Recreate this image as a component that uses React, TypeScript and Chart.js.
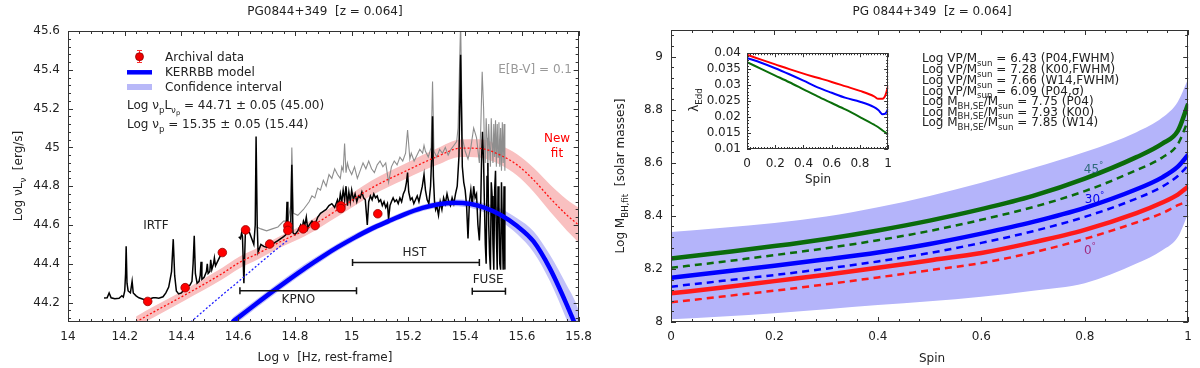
import React, { useEffect, useRef } from "react";
import { Chart, registerables } from "chart.js";
Chart.register(...registerables);

const FONT = '"DejaVu Sans", sans-serif';
const TXT = "#222";

// ---------------- Left panel data ----------------
const leftXTicks = [14, 14.2, 14.4, 14.6, 14.8, 15, 15.2, 15.4, 15.6, 15.8];
const leftYTicks = [44.2, 44.4, 44.6, 44.8, 45, 45.2, 45.4, 45.6];

const archivalX = [14.281, 14.413, 14.544, 14.626, 14.711, 14.775, 14.775, 14.829, 14.871, 14.962, 14.962, 15.092];
const archivalY = [44.206, 44.277, 44.458, 44.575, 44.502, 44.596, 44.572, 44.58, 44.597, 44.699, 44.685, 44.658];

const kerrX = [14.579, 14.602, 14.66, 14.719, 14.78, 14.836, 14.9, 14.952, 15.01, 15.069, 15.13, 15.186, 15.25, 15.302, 15.36, 15.42, 15.47, 15.524, 15.583, 15.641, 15.699, 15.758, 15.787];
const kerrY = [44.10, 44.125, 44.19, 44.255, 44.32, 44.378, 44.44, 44.487, 44.535, 44.58, 44.62, 44.655, 44.688, 44.706, 44.715, 44.708, 44.688, 44.653, 44.595, 44.515, 44.375, 44.19, 44.09];
const kerrBandX = [14.579, 14.602, 14.66, 14.719, 14.78, 14.836, 14.9, 14.952, 15.01, 15.069, 15.13, 15.186, 15.25, 15.302, 15.36, 15.42, 15.47, 15.524, 15.583, 15.641, 15.699, 15.758, 15.787, 15.8];
const kerrBandHi = [44.122, 44.148, 44.212, 44.277, 44.342, 44.4, 44.46, 44.506, 44.553, 44.597, 44.636, 44.671, 44.704, 44.723, 44.733, 44.728, 44.712, 44.685, 44.635, 44.568, 44.445, 44.29, 44.21, 44.16];
const kerrBandLo = [44.078, 44.102, 44.168, 44.233, 44.298, 44.356, 44.42, 44.468, 44.517, 44.563, 44.604, 44.639, 44.672, 44.689, 44.697, 44.688, 44.664, 44.62, 44.553, 44.46, 44.31, 44.11, 44.0, 43.96];

const kerrExtX = [14.433, 14.52, 14.602, 14.69, 14.777];
const kerrExtY = [44.10, 44.21, 44.31, 44.42, 44.525];

const fitX = [14.24, 14.30, 14.413, 14.544, 14.602, 14.672, 14.75, 14.836, 14.952, 15.069, 15.186, 15.302, 15.384, 15.45, 15.524, 15.583, 15.641, 15.699, 15.758, 15.8];
const fitY = [44.10, 44.15, 44.24, 44.35, 44.405, 44.455, 44.515, 44.575, 44.68, 44.79, 44.875, 44.953, 44.996, 44.995, 44.96, 44.91, 44.833, 44.739, 44.652, 44.60];
const fitHi = [44.128, 44.178, 44.268, 44.38, 44.435, 44.485, 44.545, 44.607, 44.715, 44.828, 44.915, 44.996, 45.041, 45.042, 45.01, 44.965, 44.895, 44.809, 44.732, 44.69];
const fitLo = [44.072, 44.122, 44.212, 44.32, 44.375, 44.425, 44.485, 44.543, 44.645, 44.752, 44.835, 44.91, 44.951, 44.948, 44.91, 44.855, 44.771, 44.669, 44.572, 44.51];

const specX = [14.127, 14.138, 14.145, 14.152, 14.165, 14.18, 14.19, 14.195, 14.2, 14.203, 14.205, 14.208, 14.212, 14.22, 14.226, 14.23, 14.24, 14.25, 14.26, 14.27, 14.28, 14.29, 14.30, 14.31, 14.32, 14.335, 14.345, 14.355, 14.365, 14.371, 14.376, 14.382, 14.39, 14.40, 14.41, 14.42, 14.43, 14.437, 14.441, 14.445, 14.449, 14.455, 14.462, 14.466, 14.469, 14.472, 14.48, 14.488, 14.491, 14.494, 14.50, 14.503, 14.507, 14.513, 14.516, 14.52, 14.53, 14.54, 14.553,
  14.58,
  14.602, 14.608, 14.612, 14.615, 14.62, 14.625, 14.63, 14.64, 14.65, 14.655, 14.66, 14.663, 14.667, 14.67, 14.68, 14.69, 14.70, 14.71, 14.72, 14.73, 14.74, 14.75, 14.76, 14.768, 14.772, 14.775, 14.78, 14.785, 14.789, 14.793, 14.80, 14.81, 14.82, 14.825, 14.83, 14.835, 14.84, 14.845, 14.85, 14.86, 14.87, 14.88, 14.89, 14.90, 14.91, 14.92, 14.93, 14.94, 14.95, 14.955, 14.96, 14.965, 14.97, 14.975, 14.98, 14.985, 14.99, 14.995,
  15.00, 15.006, 15.012, 15.018, 15.024, 15.03, 15.036, 15.042, 15.048, 15.055, 15.06, 15.066, 15.072, 15.078, 15.084, 15.09, 15.096, 15.102, 15.108, 15.114, 15.12, 15.126, 15.13, 15.135, 15.14, 15.146, 15.152, 15.158, 15.164, 15.17, 15.176, 15.182, 15.188, 15.193, 15.197, 15.201, 15.207, 15.213, 15.219, 15.225, 15.231, 15.237, 15.243, 15.249, 15.255, 15.26, 15.266, 15.272, 15.278, 15.282, 15.285, 15.288, 15.292, 15.296, 15.30, 15.306, 15.312, 15.318, 15.324, 15.33, 15.336, 15.342, 15.348, 15.354, 15.36, 15.366, 15.372, 15.378, 15.384, 15.39, 15.395,
  15.40, 15.405, 15.41, 15.415, 15.42, 15.425, 15.43, 15.435, 15.44, 15.445, 15.45, 15.455, 15.458, 15.461, 15.465, 15.468, 15.471, 15.474, 15.477, 15.48, 15.483, 15.486, 15.489, 15.492, 15.495, 15.498, 15.501, 15.504, 15.507, 15.51, 15.513, 15.516, 15.519, 15.522, 15.525, 15.528, 15.531, 15.534, 15.537, 15.54];
const specY = [44.224, 44.225, 44.25, 44.225, 44.22, 44.222, 44.235, 44.228, 44.26, 44.35, 44.49, 44.30, 44.26, 44.25, 44.31, 44.25, 44.235, 44.225, 44.22, 44.215, 44.218, 44.22, 44.225, 44.225, 44.223, 44.23, 44.25, 44.28, 44.36, 44.527, 44.34, 44.26, 44.245, 44.25, 44.27, 44.285, 44.29, 44.31, 44.40, 44.545, 44.35, 44.30, 44.31, 44.34, 44.41, 44.32, 44.33, 44.36, 44.40, 44.35, 44.36, 44.42, 44.37, 44.40, 44.43, 44.39, 44.42, 44.45, 44.46,
  null,
  44.54, 44.53, 44.56, 44.54, 44.30, 44.55, 44.57, 44.56, 44.52, 44.50, 44.6, 45.056, 44.6, 44.46, 44.50, 44.49, 44.485, 44.49, 44.50, 44.51, 44.52, 44.53, 44.54, 44.55, 44.72, 44.56, 44.56, 44.58, 44.91, 44.56, 44.55, 44.57, 44.60, 44.58, 44.62, 44.60, 44.64, 44.58, 44.60, 44.62, 44.60, 44.64, 44.66, 44.67, 44.68, 44.70, 44.71, 44.69, 44.73, 44.70, 44.76, 44.72, 44.78, 44.73, 44.80, 44.70, 44.77, 44.72,
  44.78, 44.73, 44.76, 44.72, 44.75, 44.74, 44.77, 44.74, 44.73, 44.60, 44.72, 44.75, 44.73, 44.76, 44.74, 44.75, 44.72, 44.73, 44.70, 44.72, 44.69, 44.71, 44.63, 44.70, 44.72, 44.74, 44.72, 44.73, 44.71, 44.74, 44.72, 44.76, 44.78, 44.82, 44.87, 44.77, 44.73, 44.74, 44.71, 44.73, 44.75, 44.72, 44.76, 44.80, 44.86, 44.78, 44.73, 44.71, 44.80, 44.95, 45.16, 44.85, 44.72, 44.68, 44.70, 44.65, 44.72, 44.68, 44.74, 44.71, 44.76, 44.72, 44.70, 44.74, 44.71, 44.76, 44.80, 44.95, 45.477, 44.90, 44.82,
  44.78, 44.70, 44.53, 44.72, 44.78, 44.70, 44.80, 44.74, 44.76, 44.60, 44.52, 44.72, 44.95, 45.08, 44.92, 44.70, 44.50, 44.40, 44.85, 44.92, 44.60, 44.45, 44.37, 44.82, 44.75, 44.50, 44.37, 44.78, 44.88, 44.55, 44.37, 44.80, 44.72, 44.40, 44.37, 44.82, 44.60, 44.37, 44.80, 44.37];

const greyX = [14.665, 14.68, 14.70, 14.72, 14.74, 14.76, 14.775, 14.785, 14.789, 14.795, 14.81, 14.83, 14.85, 14.86, 14.87, 14.88, 14.89, 14.90, 14.91, 14.92, 14.93, 14.94, 14.95, 14.96, 14.965, 14.97, 14.975, 14.98, 14.985, 14.99, 15.00, 15.01, 15.02, 15.03, 15.04, 15.05, 15.06, 15.07, 15.08, 15.09, 15.10, 15.11, 15.12, 15.13, 15.14, 15.15, 15.16, 15.17, 15.18, 15.19, 15.197, 15.205, 15.21, 15.22, 15.23, 15.24, 15.25, 15.255, 15.26, 15.27, 15.28, 15.285, 15.29, 15.30, 15.31, 15.32, 15.33, 15.34, 15.35, 15.36, 15.37, 15.375, 15.384, 15.39, 15.40, 15.41, 15.42, 15.43, 15.44, 15.45, 15.455, 15.46, 15.465, 15.468, 15.471, 15.474, 15.477, 15.48, 15.483, 15.486, 15.489, 15.492, 15.495, 15.498, 15.501, 15.504, 15.507, 15.51, 15.513, 15.516, 15.519, 15.522, 15.525, 15.528, 15.531, 15.534, 15.537, 15.54];
const greyY = [44.59, 44.58, 44.57, 44.58, 44.59, 44.62, 44.62, 44.70, 45.00, 44.66, 44.65, 44.68, 44.72, 44.75, 44.74, 44.79, 44.78, 44.83, 44.80, 44.86, 44.84, 44.89, 44.86, 44.84, 44.90, 44.88, 45.02, 44.87, 44.92, 44.89, 44.86, 44.90, 44.84, 44.88, 44.92, 44.89, 44.93, 44.89, 44.87, 44.91, 44.93, 44.90, 44.92, 44.82, 44.90, 44.93, 44.91, 44.95, 44.93, 44.97, 45.09, 44.94, 44.97, 44.93, 44.96, 44.99, 44.97, 45.01, 44.98, 44.95, 45.0, 45.34, 44.98, 44.95, 44.99, 44.97, 45.0, 44.96, 44.99, 45.01, 45.03, 45.10, 45.65, 45.05, 44.98, 44.94, 45.00, 45.10, 45.05, 44.92, 45.10, 45.39, 45.20, 45.0, 44.92, 45.15, 45.05, 44.88, 45.12, 45.0, 44.9, 45.15, 45.02, 44.92, 45.12, 44.95, 45.14, 44.9, 45.12, 44.95, 45.13, 44.9, 45.1, 44.88, 45.13, 44.92, 45.12, 44.88];

const kpnoX = [14.606, 15.017];
const kpnoY = [44.261, 44.261];
const hstX = [15.003, 15.45];
const hstY = [44.407, 44.407];
const fuseX = [15.425, 15.542];
const fuseY = [44.258, 44.258];

// ---------------- Right panel data ----------------
const rightXTicks = [0, 0.2, 0.4, 0.6, 0.8, 1];
const rightYTicks = [8, 8.2, 8.4, 8.6, 8.8, 9];
const spin = [0, 0.1, 0.2, 0.3, 0.4, 0.5, 0.6, 0.7, 0.8, 0.9, 0.95, 0.98, 1];
const green45 = [8.239, 8.262, 8.286, 8.313, 8.345, 8.382, 8.425, 8.475, 8.54, 8.621, 8.672, 8.72, 8.822];
const green45d = [8.204, 8.227, 8.252, 8.278, 8.308, 8.343, 8.385, 8.433, 8.493, 8.572, 8.62, 8.67, 8.76];
const blue30 = [8.167, 8.189, 8.212, 8.236, 8.262, 8.294, 8.333, 8.377, 8.43, 8.50, 8.545, 8.585, 8.63];
const blue30d = [8.133, 8.155, 8.177, 8.201, 8.228, 8.26, 8.298, 8.342, 8.396, 8.465, 8.51, 8.55, 8.59];
const red0 = [8.108, 8.13, 8.154, 8.178, 8.204, 8.232, 8.26, 8.30, 8.347, 8.41, 8.45, 8.48, 8.51];
const red0d = [8.074, 8.096, 8.118, 8.142, 8.168, 8.195, 8.222, 8.262, 8.313, 8.375, 8.41, 8.44, 8.455];
const massBandHi = [8.339, 8.355, 8.373, 8.397, 8.432, 8.475, 8.525, 8.58, 8.64, 8.715, 8.77, 8.83, 8.916];
const massBandLo = [8.01, 8.021, 8.033, 8.048, 8.064, 8.078, 8.095, 8.118, 8.146, 8.22, 8.27, 8.32, 8.409];

// ---------------- Inset data ----------------
const insetXTicks = [0, 0.2, 0.4, 0.6, 0.8, 1];
const insetYTicks = [0.01, 0.015, 0.02, 0.025, 0.03, 0.035, 0.04];
const insetSpin = [0, 0.1, 0.2, 0.3, 0.4, 0.5, 0.6, 0.7, 0.8, 0.9, 0.93, 0.96, 0.98, 1];
const eddRed = [0.0395, 0.038, 0.0365, 0.035, 0.0336, 0.0323, 0.031, 0.0296, 0.0282, 0.0265, 0.0257, 0.0257, 0.0268, 0.0298];
const eddBlue = [0.0385, 0.037, 0.0353, 0.0334, 0.0314, 0.0293, 0.0276, 0.026, 0.0248, 0.0231, 0.0222, 0.0209, 0.0211, 0.0226];
const eddGreen = [0.0372, 0.0351, 0.033, 0.0309, 0.0287, 0.0265, 0.0244, 0.0223, 0.02, 0.0176, 0.0168, 0.0158, 0.0152, 0.0144];

// ---------------- helpers ----------------
const pts = (xs: number[], ys: (number | null)[]) => xs.map((x, i) => ({ x, y: ys[i] }));
const fmt = (v: any) => String(parseFloat(Number(v).toFixed(3)));

type Seg = [string, number];
function drawRich(ctx: CanvasRenderingContext2D, segs: Seg[], x: number, y: number, size: number, color: string, align: "left" | "center" | "right" = "left") {
  const sz = (l: number) => (l === 0 ? size : l === 2 ? size * 0.55 : size * 0.72);
  const dy = (l: number) => (l === 0 ? 0 : l === 1 ? size * 0.3 : l === 2 ? size * 0.48 : -size * 0.42);
  ctx.save();
  ctx.fillStyle = color;
  ctx.textBaseline = "alphabetic";
  ctx.textAlign = "left";
  let w = 0;
  for (const [t, l] of segs) { ctx.font = `${sz(l)}px ${FONT}`; w += ctx.measureText(t).width; }
  let cx = align === "left" ? x : align === "center" ? x - w / 2 : x - w;
  const base = y + size * 0.36;
  for (const [t, l] of segs) {
    ctx.font = `${sz(l)}px ${FONT}`;
    ctx.fillText(t, cx, base + dy(l));
    cx += ctx.measureText(t).width;
  }
  ctx.restore();
}

function frameTicks(id: string, xMinor: number, yMinor: number, majLen: number, minLen: number, bg?: string) {
  return {
    id,
    beforeDatasetsDraw(chart: any) {
      if (!bg) return;
      const { ctx, chartArea: a } = chart;
      ctx.save(); ctx.fillStyle = bg; ctx.fillRect(a.left, a.top, a.right - a.left, a.bottom - a.top); ctx.restore();
    },
    afterDatasetsDraw(chart: any) {
      const { ctx, chartArea: a } = chart;
      const xs = chart.scales.x, ys = chart.scales.y;
      ctx.save();
      ctx.strokeStyle = "#333";
      ctx.lineWidth = 1;
      ctx.beginPath();
      const isMaj = (s: any, v: number) => s.ticks.some((t: any) => Math.abs(t.value - v) < 1e-7);
      const gen = (s: any, step: number) => {
        const anchor = s.ticks[0].value;
        let v = anchor - Math.floor((anchor - s.min) / step + 1e-6) * step;
        const out: number[] = [];
        for (; v <= s.max + 1e-9; v += step) out.push(parseFloat(v.toFixed(6)));
        return out;
      };
      for (const v of gen(xs, xMinor)) {
        const px = Math.round(xs.getPixelForValue(v)) + 0.5;
        const L = isMaj(xs, v) ? majLen : minLen;
        ctx.moveTo(px, a.bottom); ctx.lineTo(px, a.bottom - L);
        ctx.moveTo(px, a.top); ctx.lineTo(px, a.top + L);
      }
      for (const v of gen(ys, yMinor)) {
        const py = Math.round(ys.getPixelForValue(v)) + 0.5;
        const L = isMaj(ys, v) ? majLen : minLen;
        ctx.moveTo(a.left, py); ctx.lineTo(a.left + L, py);
        ctx.moveTo(a.right, py); ctx.lineTo(a.right - L, py);
      }
      ctx.stroke();
      ctx.strokeRect(Math.round(a.left) + 0.5, Math.round(a.top) + 0.5, Math.round(a.right - a.left) - 1, Math.round(a.bottom - a.top) - 1);
      ctx.restore();
    },
  };
}

function axisScale(ticks: number[], min: number, max: number, size: number, isX: boolean, pad: number, fontSize = 12) {
  return {
    type: "linear" as const,
    min, max,
    afterBuildTicks: (s: any) => { s.ticks = ticks.map((v) => ({ value: v })); },
    afterFit: (s: any) => { if (isX) s.height = size; else s.width = size; },
    grid: { display: false, drawTicks: false },
    border: { display: false },
    ticks: { font: { family: FONT, size: fontSize }, color: TXT, padding: pad, maxRotation: 0, autoSkip: false, callback: (v: any) => fmt(v) },
  };
}

const line = (data: any[], color: string, width: number, extra: any = {}) => ({
  data, showLine: true, borderColor: color, borderWidth: width, pointRadius: 0, fill: false, tension: 0, ...extra,
});

export default function App() {
  const leftRef = useRef<HTMLCanvasElement>(null);
  const rightRef = useRef<HTMLCanvasElement>(null);
  const insetRef = useRef<HTMLCanvasElement>(null);

  useEffect(() => {
    const barExtra = { pointRadius: 3.5, pointStyle: "line", rotation: 90, pointBorderColor: "#111", pointBorderWidth: 1.5 };
    const leftText = {
      id: "leftText",
      afterDraw(chart: any) {
        const ctx = chart.ctx as CanvasRenderingContext2D;
        const xs = chart.scales.x, ys = chart.scales.y;
        const X = (v: number) => xs.getPixelForValue(v), Y = (v: number) => ys.getPixelForValue(v);
        drawRich(ctx, [["PG0844+349  [z = 0.064]", 0]], 325, 11, 12, TXT, "center");
        drawRich(ctx, [["Log ν  [Hz, rest-frame]", 0]], 325, 357, 12, TXT, "center");
        ctx.save(); ctx.translate(18, 176); ctx.rotate(-Math.PI / 2);
        drawRich(ctx, [["Log νL", 0], ["ν", 1], ["  [erg/s]", 0]], 0, 0, 12, TXT, "center");
        ctx.restore();
        // legend
        ctx.save();
        ctx.strokeStyle = "#ff3030"; ctx.lineWidth = 1;
        ctx.beginPath();
        ctx.moveTo(139.5, 50); ctx.lineTo(139.5, 63);
        ctx.moveTo(137, 50.5); ctx.lineTo(142, 50.5);
        ctx.moveTo(137, 62.5); ctx.lineTo(142, 62.5);
        ctx.stroke();
        ctx.fillStyle = "#ee0000"; ctx.strokeStyle = "#8b0000"; ctx.lineWidth = 0.8;
        ctx.beginPath(); ctx.arc(139.5, 56.7, 4, 0, Math.PI * 2); ctx.fill(); ctx.stroke();
        ctx.strokeStyle = "#0000ff"; ctx.lineWidth = 4.5;
        ctx.beginPath(); ctx.moveTo(127, 72.3); ctx.lineTo(152, 72.3); ctx.stroke();
        ctx.strokeStyle = "#b8b8f8"; ctx.lineWidth = 6;
        ctx.beginPath(); ctx.moveTo(127, 87); ctx.lineTo(152, 87); ctx.stroke();
        ctx.restore();
        drawRich(ctx, [["Archival data", 0]], 165, 57, 12, TXT);
        drawRich(ctx, [["KERRBB model", 0]], 165, 72, 12, TXT);
        drawRich(ctx, [["Confidence interval", 0]], 165, 87, 12, TXT);
        drawRich(ctx, [["Log ν", 0], ["p", 1], ["L", 0], ["ν", 1], ["p", 2], [" = 44.71 ± 0.05 (45.00)", 0]], 127, 105, 12, TXT);
        drawRich(ctx, [["Log ν", 0], ["p", 1], [" = 15.35 ± 0.05 (15.44)", 0]], 127, 124, 12, TXT);
        drawRich(ctx, [["IRTF", 0]], X(14.31), Y(44.6), 12, TXT, "center");
        drawRich(ctx, [["KPNO", 0]], X(14.812), Y(44.22), 12, TXT, "center");
        drawRich(ctx, [["HST", 0]], X(15.221), Y(44.464), 12, TXT, "center");
        drawRich(ctx, [["FUSE", 0]], X(15.481), Y(44.323), 12, TXT, "center");
        drawRich(ctx, [["E[B-V] = 0.1", 0]], 572, 69, 12, "#999999", "right");
        drawRich(ctx, [["New", 0]], 557, 138, 12, "#ff0000", "center");
        drawRich(ctx, [["fit", 0]], 557, 153, 12, "#ff0000", "center");
      },
    };

    const left = new Chart(leftRef.current!, {
      type: "scatter",
      data: {
        datasets: [
          { data: pts(archivalX, archivalY), pointRadius: 4.3, backgroundColor: "#ff0000", borderColor: "#9a0000", borderWidth: 0.8, showLine: false },
          line(pts(kpnoX, kpnoY), "#111", 1.5, barExtra),
          line(pts(hstX, hstY), "#111", 1.5, barExtra),
          line(pts(fuseX, fuseY), "#111", 1.5, barExtra),
          line(pts(kerrX, kerrY), "#0000ff", 4.5, { cubicInterpolationMode: "monotone" }),
          line(pts(kerrExtX, kerrExtY), "#2020ff", 1.3, { borderDash: [2, 2], cubicInterpolationMode: "monotone" }),
          line(pts(fitX, fitY), "#ff1010", 1.3, { borderDash: [2, 2], cubicInterpolationMode: "monotone" }),
          line(pts(specX, specY), "#000000", 1.5, { spanGaps: false }),
          line(pts(greyX, greyY), "#8e8e8e", 1.1),
          line(pts(kerrBandX, kerrBandHi), "rgba(0,0,0,0)", 0, { fill: "+1", backgroundColor: "#c2c2f8", cubicInterpolationMode: "monotone" }),
          line(pts(kerrBandX, kerrBandLo), "rgba(0,0,0,0)", 0, { cubicInterpolationMode: "monotone" }),
          line(pts(fitX, fitHi), "rgba(0,0,0,0)", 0, { fill: "+1", backgroundColor: "#f9c0c0", cubicInterpolationMode: "monotone" }),
          line(pts(fitX, fitLo), "rgba(0,0,0,0)", 0, { cubicInterpolationMode: "monotone" }),
        ] as any,
      },
      options: {
        animation: false,
        responsive: false,
        events: [],
        layout: { padding: { left: 0, right: 18, top: 31, bottom: 0 } },
        plugins: { legend: { display: false }, tooltip: { enabled: false } },
        scales: {
          x: axisScale(leftXTicks, 14, 15.8, 46, true, 8),
          y: axisScale(leftYTicks, 44.1, 45.6, 68, false, 8),
        } as any,
      },
      plugins: [frameTicks("lf", 0.04, 0.04, 5, 3), leftText],
    });

    const rightText = {
      id: "rightText",
      afterDraw(chart: any) {
        const ctx = chart.ctx as CanvasRenderingContext2D;
        const xs = chart.scales.x, ys = chart.scales.y;
        const X = (v: number) => xs.getPixelForValue(v), Y = (v: number) => ys.getPixelForValue(v);
        drawRich(ctx, [["PG 0844+349  [z = 0.064]", 0]], 332, 11, 12, TXT, "center");
        drawRich(ctx, [["Spin", 0]], 332, 358, 12, TXT, "center");
        ctx.save(); ctx.translate(20, 176); ctx.rotate(-Math.PI / 2);
        drawRich(ctx, [["Log M", 0], ["BH,fit", 1], ["  [solar masses]", 0]], 0, 0, 12, TXT, "center");
        ctx.restore();
        const lines: Seg[][] = [
          [["Log VP/M", 0], ["sun", 1], [" = 6.43 (P04,FWHM)", 0]],
          [["Log VP/M", 0], ["sun", 1], [" = 7.28 (K00,FWHM)", 0]],
          [["Log VP/M", 0], ["sun", 1], [" = 7.66 (W14,FWHM)", 0]],
          [["Log VP/M", 0], ["sun", 1], [" = 6.09 (P04,σ)", 0]],
          [["Log M", 0], ["BH,SE", 1], ["/M", 0], ["sun", 1], [" = 7.75 (P04)", 0]],
          [["Log M", 0], ["BH,SE", 1], ["/M", 0], ["sun", 1], [" = 7.93 (K00)", 0]],
          [["Log M", 0], ["BH,SE", 1], ["/M", 0], ["sun", 1], [" = 7.85 (W14)", 0]],
        ];
        const ly = [58, 69, 80, 90.5, 101, 111.5, 122];
        lines.forEach((l, i) => drawRich(ctx, l, 322, ly[i], 12, TXT));
        drawRich(ctx, [["45", 0], ["°", -1]], X(0.817), Y(8.578), 12, "#2e6a7a", "center");
        drawRich(ctx, [["30", 0], ["°", -1]], X(0.819), Y(8.466), 12, "#0000ee", "center");
        drawRich(ctx, [["0", 0], ["°", -1]], X(0.81), Y(8.274), 12, "#a02a80", "center");
      },
    };

    const right = new Chart(rightRef.current!, {
      type: "scatter",
      data: {
        datasets: [
          line(pts(spin, green45), "#0b6b0b", 4.5, { cubicInterpolationMode: "monotone" }),
          line(pts(spin, green45d), "#0b6b0b", 2.5, { borderDash: [7, 5], cubicInterpolationMode: "monotone" }),
          line(pts(spin, blue30), "#0000ff", 4.5, { cubicInterpolationMode: "monotone" }),
          line(pts(spin, blue30d), "#0000ff", 2.5, { borderDash: [7, 5], cubicInterpolationMode: "monotone" }),
          line(pts(spin, red0), "#ff1a1a", 4.5, { cubicInterpolationMode: "monotone" }),
          line(pts(spin, red0d), "#ff1a1a", 2.5, { borderDash: [7, 5], cubicInterpolationMode: "monotone" }),
          line(pts(spin, massBandHi), "rgba(0,0,0,0)", 0, { fill: "+1", backgroundColor: "#b4b4fa", cubicInterpolationMode: "monotone" }),
          line(pts(spin, massBandLo), "rgba(0,0,0,0)", 0, { cubicInterpolationMode: "monotone" }),
        ] as any,
      },
      options: {
        animation: false,
        responsive: false,
        events: [],
        layout: { padding: { left: 0, right: 7, top: 30, bottom: 0 } },
        plugins: { legend: { display: false }, tooltip: { enabled: false } },
        scales: {
          x: axisScale(rightXTicks, 0, 1, 46, true, 8),
          y: axisScale(rightYTicks, 8, 9.1, 71, false, 8),
        } as any,
      },
      plugins: [frameTicks("rf", 0.04, 0.04, 5, 3), rightText],
    });

    const insetText = {
      id: "insetText",
      afterDraw(chart: any) {
        const ctx = chart.ctx as CanvasRenderingContext2D;
        drawRich(ctx, [["Spin", 0]], 138, 139, 12, TXT, "center");
        ctx.save(); ctx.translate(14, 60); ctx.rotate(-Math.PI / 2);
        drawRich(ctx, [["λ", 0], ["Edd", 1]], 0, 0, 12, TXT, "center");
        ctx.restore();
      },
    };

    const inset = new Chart(insetRef.current!, {
      type: "scatter",
      data: {
        datasets: [
          line(pts(insetSpin, eddRed), "#ff0000", 2, { cubicInterpolationMode: "monotone" }),
          line(pts(insetSpin, eddBlue), "#0000ff", 2, { cubicInterpolationMode: "monotone" }),
          line(pts(insetSpin, eddGreen), "#0a6e0a", 2, { cubicInterpolationMode: "monotone" }),
        ] as any,
      },
      options: {
        animation: false,
        responsive: false,
        events: [],
        layout: { padding: { left: 0, right: 11, top: 12, bottom: 0 } },
        plugins: { legend: { display: false }, tooltip: { enabled: false } },
        scales: {
          x: axisScale(insetXTicks, 0, 1, 41, true, 8),
          y: axisScale(insetYTicks, 0.01, 0.04, 67, false, 6),
        } as any,
      },
      plugins: [frameTicks("if", 0.02, 0.001, 4, 2, "#ffffff"), insetText],
    });

    return () => { left.destroy(); right.destroy(); inset.destroy(); };
  }, []);

  return (
    <div style={{ position: "absolute", left: 0, top: 0, width: 1200, height: 368, background: "#fff" }}>
      <canvas ref={leftRef} width={600} height={368} style={{ position: "absolute", left: 0, top: 0, width: 600, height: 368 }} />
      <canvas ref={rightRef} width={600} height={368} style={{ position: "absolute", left: 600, top: 0, width: 600, height: 368 }} />
      <canvas ref={insetRef} width={220} height={150} style={{ position: "absolute", left: 680, top: 40, width: 220, height: 150 }} />
    </div>
  );
}
